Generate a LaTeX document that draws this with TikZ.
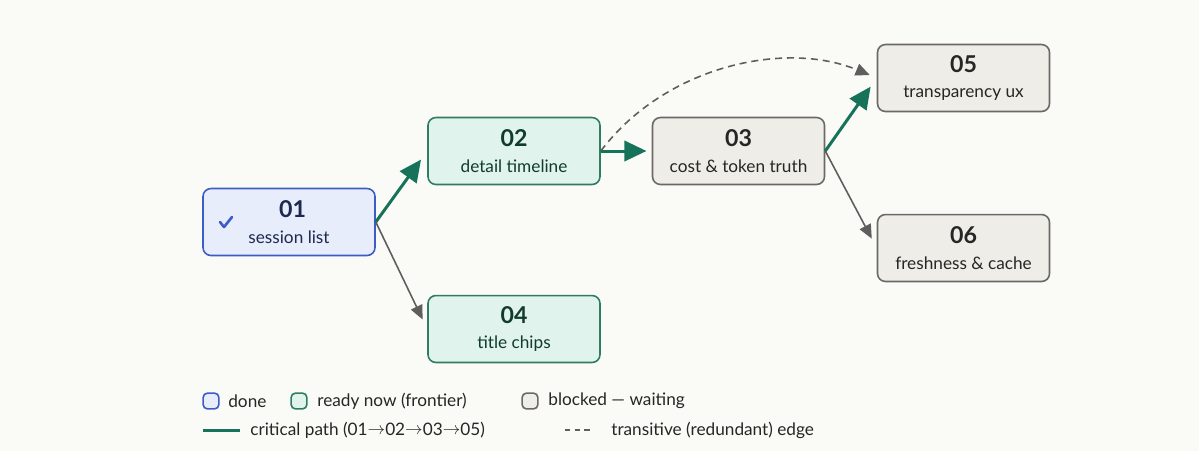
\documentclass[tikz,border=0pt]{standalone}
\usepackage{fontspec}
\setmainfont{Lato}
\usetikzlibrary{arrows.meta}
\definecolor{bg}{HTML}{FAFAF7}
\definecolor{bluefill}{HTML}{E7EDFA}
\definecolor{blueline}{HTML}{3C5CC6}
\definecolor{bluetext}{HTML}{1C2A4E}
\definecolor{greenfill}{HTML}{E0F3EC}
\definecolor{greenline}{HTML}{2F7C62}
\definecolor{greentext}{HTML}{113B2E}
\definecolor{grayfill}{HTML}{EFEDE8}
\definecolor{grayline}{HTML}{6A6965}
\definecolor{graytext}{HTML}{262624}
\definecolor{crit}{HTML}{16735A}
\definecolor{soft}{HTML}{5E5E5C}
\tikzset{
  box/.style={draw, rounded corners=4.5pt, minimum width=97.9pt, minimum height=38.1pt,
    line width=0.9pt, align=center, inner sep=0pt},
  donebox/.style={box, fill=bluefill, draw=blueline, text=bluetext},
  readybox/.style={box, fill=greenfill, draw=greenline, text=greentext},
  blockedbox/.style={box, fill=grayfill, draw=grayline, text=graytext},
  critedge/.style={draw=crit, line width=1.7pt, -{Triangle[length=12.5pt,width=11.5pt]}},
  softedge/.style={draw=soft, line width=0.9pt, -{Triangle[length=8pt,width=7pt]}},
  transedge/.style={draw=soft, line width=0.9pt, dash pattern=on 4pt off 2.8pt, -{Triangle[length=8pt,width=7pt]}},
  legtext/.style={anchor=west, inner sep=0pt, font=\fontsize{9.8}{12}\selectfont, text=graytext},
  legbox/.style={draw, rounded corners=2.5pt, minimum size=9pt, inner sep=0pt, line width=0.9pt},
}
\newcommand{\boxtext}[2]{{\fontsize{13.2}{15}\selectfont\bfseries #1}\\[2.6pt]{\fontsize{9.8}{12}\selectfont #2}}
\begin{document}
\begin{tikzpicture}[x=0.02cm,y=-0.02cm]
\useasboundingbox (0,0) rectangle (1199,451);
\fill[bg] (0,0) rectangle (1199,451);

\node[donebox] (n01) at (289,222) {\hspace*{4pt}\boxtext{01}{session list}};
\node[readybox] (n02) at (514,151) {\boxtext{02}{detail timeline}};
\node[blockedbox] (n03) at (738.5,151) {\boxtext{03}{cost \& token truth}};
\node[readybox] (n04) at (514,329) {\boxtext{04}{title chips}};
\node[blockedbox] (n05) at (963.5,78) {\boxtext{05}{transparency ux}};
\node[blockedbox] (n06) at (963.5,248) {\boxtext{06}{freshness \& cache}};

% check mark
\coordinate (ck) at (226,222);
\draw[blueline, line width=1.5pt, line cap=round, line join=round]
  ([shift={(-6,0)}]ck) -- ([shift={(-2,5)}]ck) -- ([shift={(6,-5)}]ck);

% edges
\draw[transedge] (n02.east) .. controls (665,66) and (785,40) .. ([shift={(-7,-3)}]n05.west);
\draw[critedge, shorten >=6pt] (n01.east) -- (n02.west);
\draw[softedge, shorten >=6pt] (n01.east) -- (n04.west);
\draw[critedge, shorten >=3pt] (n02.east) -- (n03.west);
\draw[critedge, shorten >=6pt] (n03.east) -- (n05.west);
\draw[softedge, shorten >=6pt] (n03.east) -- (n06.west);

% legend
\node[legbox, fill=bluefill, draw=blueline] (l1) at (211,401) {};
\node[legtext] (t1) at (228,401) {done};
\node[legbox, fill=greenfill, draw=greenline] (l2) at (299,401) {};
\node[legtext] (t2) at (317,401) {ready now (frontier)};
\node[legbox, fill=grayfill, draw=grayline] (l3) at (530,401) {};
\node[legtext] (t3) at (548,401) {blocked — waiting};
\coordinate (c1) at (203,430);
\coordinate (c2) at (240,430);
\draw[crit, line width=1.7pt] (c1) -- (c2);
\node[legtext] (t4) at (250,430) {critical path (01\raisebox{0.5pt}{$\to$}02\raisebox{0.5pt}{$\to$}03\raisebox{0.5pt}{$\to$}05)};
\coordinate (d1) at (565,430);
\coordinate (d2) at (592,430);
\draw[soft, line width=0.9pt, dash pattern=on 3pt off 2.5pt] (d1) -- (d2);
\node[legtext] (t5) at (611,430) {transitive (redundant) edge};
\end{tikzpicture}
\end{document}
